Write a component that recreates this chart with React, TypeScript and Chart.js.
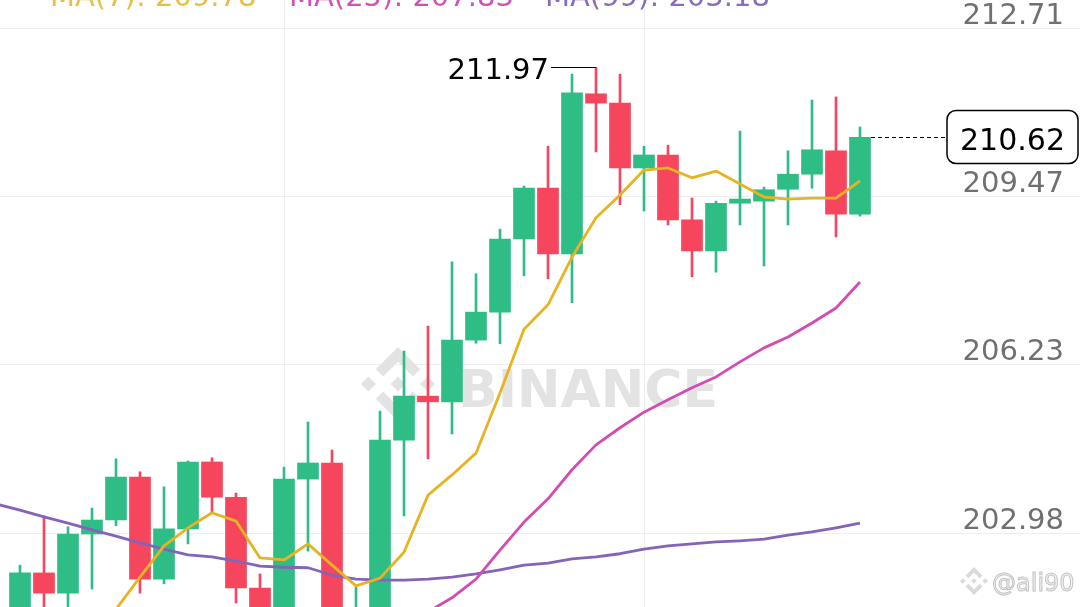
import React, { useEffect, useRef } from "react";
import { Chart, registerables } from "chart.js";

Chart.register(...registerables);

// ---- Data (candles occupy slots 1..36; slot 0 is one period earlier, only MA(99) is visible there)
const candleOpen = [
  198.55, 202.22, 201.83, 202.97, 203.24, 204.07, 202.1, 203.07, 204.36, 203.68,
  201.93, 198.1, 204.03, 204.34, 200.2, 201.5, 204.78, 205.63, 205.52, 206.71,
  207.25, 208.66, 209.64, 208.37, 211.46, 211.28, 210.03, 210.28, 209.03, 208.43,
  209.35, 209.39, 209.62, 209.91, 210.36, 209.14,
];
const candleHigh = [
  202.37, 203.32, 203.11, 203.47, 204.42, 204.17, 203.88, 204.38, 204.44, 203.76,
  202.2, 204.26, 205.13, 204.59, 201.95, 205.34, 206.5, 206.98, 208.22, 207.99,
  208.85, 209.68, 210.45, 211.84, 211.97, 211.84, 210.45, 210.47, 209.45, 209.39,
  210.74, 209.66, 210.36, 211.34, 211.4, 210.82,
];
const candleLow = [
  198.3, 200.9, 201.2, 201.91, 203.13, 201.83, 202.01, 202.78, 203.38, 201.64,
  197.8, 197.9, 202.64, 199.9, 199.6, 201.2, 203.32, 204.42, 204.9, 206.65,
  206.64, 207.95, 207.89, 207.43, 210.34, 209.32, 209.2, 208.93, 207.93, 208.02,
  208.93, 208.14, 208.93, 209.64, 208.7, 209.1,
];
const candleClose = [
  202.22, 201.83, 202.97, 203.24, 204.07, 202.1, 203.07, 204.36, 203.68, 201.93,
  198.1, 204.03, 204.34, 200.2, 201.5, 204.78, 205.63, 205.52, 206.71, 207.25,
  208.66, 209.64, 208.37, 211.48, 211.28, 210.03, 210.28, 209.03, 208.43, 209.35,
  209.43, 209.61, 209.91, 210.38, 209.14, 210.62,
];
// MA(7) and MA(25): one value per candle (slots 1..36)
const ma7 = [
  null, null, null, 200.54, 201.52, 202.14, 202.74, 203.09, 203.38, 203.22,
  202.51, 202.47, 202.78, 202.37, 201.97, 202.12, 202.62, 203.72, 204.11, 204.53,
  205.69, 206.92, 207.39, 208.31, 209.07, 209.51, 209.99, 210.03, 209.84, 209.97,
  209.72, 209.47, 209.43, 209.45, 209.45, 209.78,
];
const ma25 = [
  null, null, null, null, null, null, null, null, null, null,
  null, null, null, null, null, null, 201.08, 201.47, 201.74, 202.1,
  202.66, 203.2, 203.65, 204.21, 204.69, 205.02, 205.32, 205.56, 205.79, 206.0,
  206.29, 206.56, 206.77, 207.04, 207.33, 207.83,
];
// MA(99): slots 0..36
const ma99 = [
  203.55, 203.43, 203.3, 203.18, 203.05, 202.93, 202.8, 202.68, 202.57, 202.53,
  202.45, 202.35, 202.33, 202.32, 202.18, 202.1, 202.08, 202.08, 202.1, 202.14,
  202.2, 202.28, 202.37, 202.41, 202.49, 202.53, 202.59, 202.68, 202.74, 202.78,
  202.82, 202.84, 202.87, 202.95, 203.01, 203.09, 203.18,
];
const yTickValues = [212.71, 209.47, 206.23, 202.98];
const xGridSlots = [12, 27];
const maNames = ["MA(7)", "MA(25)", "MA(99)"];

// ---- Axis ranges & styles
const Y_MIN = 201.563;
const Y_MAX = 213.269;
const X_MIN = 1 - 20 / 24;
const X_MAX = X_MIN + 45;
const GREEN = "#2EBD85";
const RED = "#F6465D";
const MA_COLORS = ["#E6B422", "#D24CB4", "#8463B8"];
const MA_TEXT_COLORS = ["#E8BF45", "#CF52B6", "#8B6CB9"];
const FONT = "'DejaVu Sans', sans-serif";

function drawLogo(ctx: CanvasRenderingContext2D, cx: number, cy: number, s: number) {
  const polys = [
    [[0, -0.2], [0.2, 0], [0, 0.2], [-0.2, 0]],
    [[-0.8, -0.2], [-0.6, 0], [-0.8, 0.2], [-1, 0]],
    [[0.8, -0.2], [1, 0], [0.8, 0.2], [0.6, 0]],
    [[0, -1], [0.6, -0.4], [0.4, -0.2], [0, -0.6], [-0.4, -0.2], [-0.6, -0.4]],
    [[0, 1], [0.6, 0.4], [0.4, 0.2], [0, 0.6], [-0.4, 0.2], [-0.6, 0.4]],
  ];
  for (const p of polys) {
    ctx.beginPath();
    p.forEach(([x, y], i) => {
      const px = cx + x * s;
      const py = cy + y * s;
      if (i === 0) ctx.moveTo(px, py);
      else ctx.lineTo(px, py);
    });
    ctx.closePath();
    ctx.fill();
  }
}

const overlayPlugin = {
  id: "overlay",
  beforeDatasetsDraw(chart: any) {
    const ctx: CanvasRenderingContext2D = chart.ctx;
    ctx.save();
    ctx.fillStyle = "#E3E3E3";
    drawLogo(ctx, 398, 384, 37);
    ctx.font = `bold 52px ${FONT}`;
    ctx.textAlign = "left";
    ctx.textBaseline = "alphabetic";
    ctx.fillText("BINANCE", 458, 407);
    ctx.restore();
  },
  afterDatasetsDraw(chart: any) {
    const ctx: CanvasRenderingContext2D = chart.ctx;
    const xs = chart.scales.x;
    const ys = chart.scales.y;
    const area = chart.chartArea;
    ctx.save();

    // y-axis labels above grid lines
    ctx.font = `29px ${FONT}`;
    ctx.fillStyle = "#707070";
    ctx.textAlign = "right";
    ctx.textBaseline = "alphabetic";
    for (const v of yTickValues) {
      ctx.fillText(v.toFixed(2), area.right - 16, ys.getPixelForValue(v) - 5);
    }

    // legend (partially cut at top)
    ctx.font = `29px ${FONT}`;
    ctx.textAlign = "left";
    const lastVals = [ma7[ma7.length - 1], ma25[ma25.length - 1], ma99[ma99.length - 1]];
    const legendX = [50, 289, 545];
    maNames.forEach((n, i) => {
      ctx.fillStyle = MA_TEXT_COLORS[i];
      ctx.fillText(`${n}: ${(lastVals[i] as number).toFixed(2)}`, legendX[i], 6);
    });

    // highest high annotation
    let hi = 0;
    candleHigh.forEach((h, i) => {
      if (h > candleHigh[hi]) hi = i;
    });
    const hx = xs.getPixelForValue(hi + 1);
    const hy = ys.getPixelForValue(candleHigh[hi]);
    ctx.strokeStyle = "#000";
    ctx.lineWidth = 1;
    ctx.beginPath();
    ctx.moveTo(hx - 45, Math.round(hy) + 0.5);
    ctx.lineTo(hx, Math.round(hy) + 0.5);
    ctx.stroke();
    ctx.fillStyle = "#000";
    ctx.font = `29px ${FONT}`;
    ctx.textAlign = "right";
    ctx.fillText(candleHigh[hi].toFixed(2), hx - 47, hy + 12);

    // last price line + box
    const li = candleClose.length - 1;
    const last = candleClose[li];
    const lx = xs.getPixelForValue(li + 1) + 11;
    const ly = Math.round(ys.getPixelForValue(last)) + 0.5;
    const boxL = area.right - 133;
    const boxR = area.right - 2;
    ctx.setLineDash([4, 3]);
    ctx.beginPath();
    ctx.moveTo(lx, ly);
    ctx.lineTo(boxL, ly);
    ctx.stroke();
    ctx.setLineDash([]);
    ctx.fillStyle = "#fff";
    ctx.lineWidth = 1.5;
    ctx.beginPath();
    const bx = boxL, by = ly - 27, bw = boxR - boxL, bh = 53, r = 9;
    ctx.moveTo(bx + r, by);
    ctx.arcTo(bx + bw, by, bx + bw, by + bh, r);
    ctx.arcTo(bx + bw, by + bh, bx, by + bh, r);
    ctx.arcTo(bx, by + bh, bx, by, r);
    ctx.arcTo(bx, by, bx + bw, by, r);
    ctx.closePath();
    ctx.fill();
    ctx.stroke();
    ctx.fillStyle = "#000";
    ctx.textAlign = "center";
    ctx.font = `30px ${FONT}`;
    ctx.fillText(last.toFixed(2), (boxL + boxR) / 2, ly + 12);

    // small watermark bottom right
    ctx.fillStyle = "#DADADA";
    drawLogo(ctx, 974, 581, 14);
    ctx.font = `24px ${FONT}`;
    ctx.textAlign = "left";
    ctx.fillStyle = "#F2F2F2";
    ctx.strokeStyle = "#C4C4C4";
    ctx.lineWidth = 1;
    ctx.fillText("@ali90", 992, 591);
    ctx.strokeText("@ali90", 992, 591);

    ctx.restore();
  },
};

export default function App() {
  const ref = useRef<HTMLCanvasElement | null>(null);
  useEffect(() => {
    if (!ref.current) return;
    const colors = candleClose.map((c, i) => (c >= candleOpen[i] ? GREEN : RED));
    const wickData = candleHigh.map((h, i) => ({ x: i + 1, y: [candleLow[i], h] }));
    const bodyData = candleOpen.map((o, i) => ({ x: i + 1, y: [o, candleClose[i]] }));
    const lineDs = (vals: (number | null)[], start: number, color: string) => ({
      type: "line" as const,
      data: vals.map((v, i) => ({ x: i + start, y: v })),
      borderColor: color,
      borderWidth: 2.8,
      pointRadius: 0,
      tension: 0,
      borderJoinStyle: "round" as const,
      order: 1,
    });
    const chart = new Chart(ref.current, {
      type: "bar",
      data: {
        datasets: [
          lineDs(ma7, 1, MA_COLORS[0]),
          lineDs(ma25, 1, MA_COLORS[1]),
          lineDs(ma99, 0, MA_COLORS[2]),
          {
            type: "bar",
            data: bodyData as any,
            backgroundColor: colors,
            barThickness: 21,
            grouped: false,
            borderWidth: 0,
            order: 2,
          },
          {
            type: "bar",
            data: wickData as any,
            backgroundColor: colors,
            barThickness: 2,
            grouped: false,
            borderWidth: 0,
            order: 3,
          },
        ] as any,
      },
      options: {
        animation: false,
        responsive: true,
        maintainAspectRatio: false,
        events: [],
        layout: { padding: 0, autoPadding: false },
        plugins: { legend: { display: false }, tooltip: { enabled: false }, title: { display: false } },
        scales: {
          x: {
            type: "linear",
            min: X_MIN,
            max: X_MAX,
            offset: false,
            grid: { color: "#EEEEEE", drawTicks: false, offset: false, lineWidth: 1 },
            border: { display: false },
            ticks: { display: false },
            afterBuildTicks: (s: any) => {
              s.ticks = xGridSlots.map((v) => ({ value: v }));
            },
          },
          y: {
            type: "linear",
            position: "right",
            min: Y_MIN,
            max: Y_MAX,
            beginAtZero: false,
            grid: { color: "#EEEEEE", drawTicks: false, lineWidth: 1 },
            border: { display: false },
            ticks: { display: false },
            afterBuildTicks: (s: any) => {
              s.ticks = yTickValues.map((v) => ({ value: v }));
            },
          },
        },
      } as any,
      plugins: [overlayPlugin],
    });
    return () => chart.destroy();
  }, []);
  return (
    <div style={{ position: "fixed", left: 0, top: 0, width: 1080, height: 607, background: "#fff" }}>
      <canvas ref={ref} />
    </div>
  );
}
